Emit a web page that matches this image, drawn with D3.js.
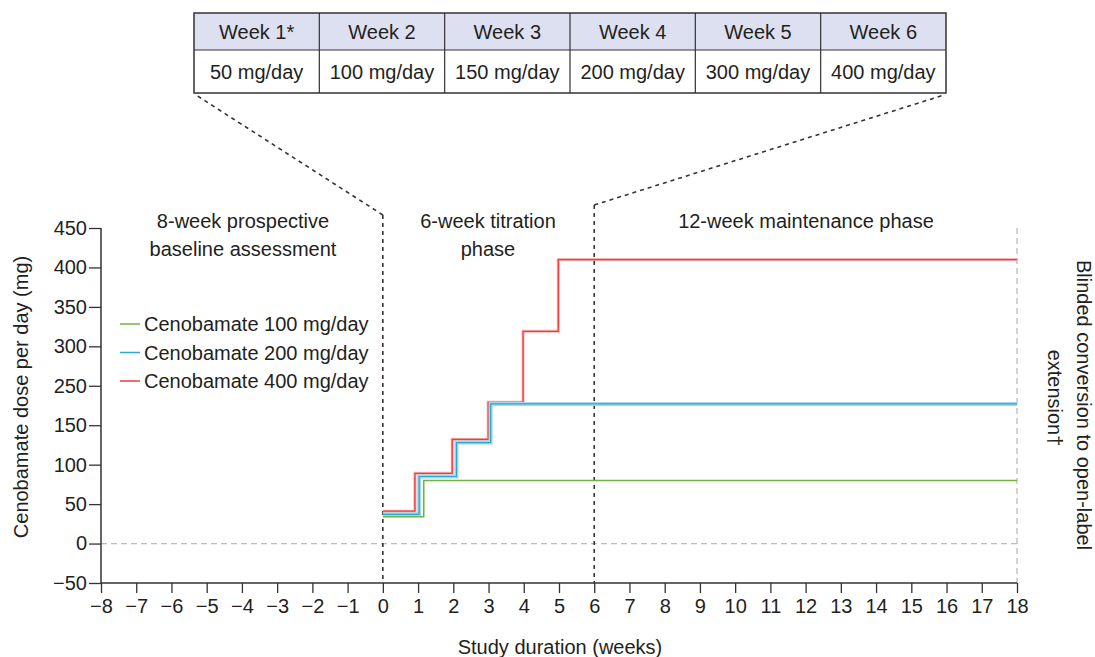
<!DOCTYPE html>
<html><head><meta charset="utf-8">
<script src="https://cdn.jsdelivr.net/npm/d3@7"></script>
<style>
body{margin:0;background:#fff;}
text{font-family:"Liberation Sans Narrow","Liberation Sans",sans-serif;fill:#231f20;}
</style></head>
<body>
<svg id="c" width="1095" height="657"></svg>
<script>
// ---- data ----
const weeks = ["Week 1*","Week 2","Week 3","Week 4","Week 5","Week 6"];
const doses = ["50 mg/day","100 mg/day","150 mg/day","200 mg/day","300 mg/day","400 mg/day"];
const xTicks = d3.range(-8,19);
const yTickValues = [-50,0,50,100,150,200,250,300,350,400];
const yTickLabels = ["\u221250","0","50","100","150","250","300","350","400","450"];
const greenX = [0,1.16,18];
const greenY = [34,80,80];
const blueX = [0,1.03,2.09,3.06,18];
const blueY = [37,85,128,177,177];
const redX = [0,0.91,1.97,2.99,3.98,4.98,18];
const redY = [41,89,132,179,269,360,360];
const seriesNames = ["Cenobamate 100 mg/day","Cenobamate 200 mg/day","Cenobamate 400 mg/day"];
const seriesColors = ["#6cb33f","#2aa7d4","#ee3b3b"];

const svg = d3.select("#c");
const x = d3.scaleLinear().domain([-8,18]).range([101,1017]);
const y = d3.scaleLinear().domain([-50,400]).range([583,228]);
const FS = 20;

// ---- table ----
const tX = d3.scaleLinear().domain([0,6]).range([194,946]);
const tTop = 13, tMid = 50, tBot = 93;
const tbl = svg.append("g");
tbl.append("rect").attr("x",tX(0)).attr("y",tTop).attr("width",tX(6)-tX(0)).attr("height",tMid-tTop).attr("fill","#dde0f0");
tbl.append("rect").attr("x",tX(0)).attr("y",tTop).attr("width",tX(6)-tX(0)).attr("height",tBot-tTop).attr("fill","none").attr("stroke","#333").attr("stroke-width",1.5);
tbl.append("line").attr("x1",tX(0)).attr("x2",tX(6)).attr("y1",tMid).attr("y2",tMid).attr("stroke","#333").attr("stroke-width",1.2);
d3.range(1,6).forEach(i=>tbl.append("line").attr("x1",tX(i)).attr("x2",tX(i)).attr("y1",tTop).attr("y2",tBot).attr("stroke","#333").attr("stroke-width",1.2));
weeks.forEach((w,i)=>tbl.append("text").attr("x",(tX(i)+tX(i+1))/2).attr("y",39).attr("text-anchor","middle").attr("font-size",FS).text(w));
doses.forEach((w,i)=>tbl.append("text").attr("x",(tX(i)+tX(i+1))/2).attr("y",79).attr("text-anchor","middle").attr("font-size",FS).text(w));

// ---- guide lines ----
svg.append("line").attr("x1",x(-8)).attr("x2",x(18)).attr("y1",y(0)).attr("y2",y(0)).attr("stroke","#bbb").attr("stroke-width",1.3).attr("stroke-dasharray","6,4");
svg.append("line").attr("x1",x(18)).attr("x2",x(18)).attr("y1",y(400)).attr("y2",y(-50)).attr("stroke","#bbb").attr("stroke-width",1.3).attr("stroke-dasharray","6,4");
const dk = "#333";
svg.append("line").attr("x1",x(0)).attr("x2",x(0)).attr("y1",215).attr("y2",y(-50)).attr("stroke",dk).attr("stroke-width",1.6).attr("stroke-dasharray","4,4");
svg.append("line").attr("x1",x(6)).attr("x2",x(6)).attr("y1",205).attr("y2",y(-50)).attr("stroke",dk).attr("stroke-width",1.6).attr("stroke-dasharray","4,4");
svg.append("line").attr("x1",x(0)).attr("y1",215).attr("x2",tX(0)+2).attr("y2",tBot+2).attr("stroke",dk).attr("stroke-width",1.6).attr("stroke-dasharray","4,4");
svg.append("line").attr("x1",x(6)).attr("y1",205).attr("x2",tX(6)-2).attr("y2",tBot+2).attr("stroke",dk).attr("stroke-width",1.6).attr("stroke-dasharray","4,4");

// ---- axes ----
const xAxis = svg.append("g").attr("transform",`translate(0,${y(-50)})`)
  .call(d3.axisBottom(x).tickValues(xTicks).tickSize(10).tickPadding(6).tickFormat(d=>d<0?"\u2212"+(-d):d));
const yAxis = svg.append("g").attr("transform",`translate(${x(-8)},0)`)
  .call(d3.axisLeft(y).tickValues(yTickValues).tickSize(12).tickPadding(2).tickFormat((d,i)=>yTickLabels[i]));
[xAxis,yAxis].forEach(a=>{
  a.select(".domain").attr("stroke",dk).attr("stroke-width",1.5);
  a.selectAll(".tick line").attr("stroke",dk).attr("stroke-width",1.3);
  a.selectAll(".tick text").attr("font-size",FS).attr("font-family",null).attr("fill","#231f20");
});
xAxis.select(".domain").attr("d",`M${x(-8)},0H${x(18)}`);
yAxis.select(".domain").attr("d",`M0,${y(400)}V${y(-50)}`);

// ---- series ----
function steps(xs,ys){
  const pts=[[xs[0],ys[0]]];
  for(let i=1;i<xs.length;i++){pts.push([xs[i],ys[i-1]]);pts.push([xs[i],ys[i]]);}
  return pts;
}
const line = d3.line().x(d=>x(d[0])).y(d=>y(d[1]));
const G = steps(greenX,greenY), B = steps(blueX,blueY), R = steps(redX,redY);
svg.append("path").attr("d",line(R)).attr("fill","none").attr("stroke","#f8b4b4").attr("stroke-width",3).attr("stroke-linejoin","miter");
svg.append("path").attr("d",line(R)).attr("fill","none").attr("stroke",seriesColors[2]).attr("stroke-width",1.3);
svg.append("path").attr("d",line(B)).attr("fill","none").attr("stroke","#a8d6e7").attr("stroke-width",4);
svg.append("path").attr("d",line(B)).attr("fill","none").attr("stroke",seriesColors[1]).attr("stroke-width",1.2);
svg.append("path").attr("d",line(G)).attr("fill","none").attr("stroke",seriesColors[0]).attr("stroke-width",1.6);

// ---- legend ----
seriesNames.forEach((n,i)=>{
  const ly = 324 + i*28.5;
  svg.append("line").attr("x1",120).attr("x2",140).attr("y1",ly).attr("y2",ly).attr("stroke",seriesColors[i]).attr("stroke-width",1.5);
  svg.append("text").attr("x",144).attr("y",ly+7).attr("font-size",FS).text(n);
});

// ---- phase labels ----
const lab = (t,cx,cy)=>svg.append("text").attr("x",cx).attr("y",cy).attr("text-anchor","middle").attr("font-size",FS).text(t);
lab("8-week prospective",243,228);
lab("baseline assessment",243,256);
lab("6-week titration",488,228);
lab("phase",488,256);
lab("12-week maintenance phase",806,228);

// ---- axis titles ----
svg.append("text").attr("transform","translate(28,397) rotate(-90)").attr("text-anchor","middle").attr("font-size",FS).text("Cenobamate dose per day (mg)");
svg.append("text").attr("x",560).attr("y",654).attr("text-anchor","middle").attr("font-size",FS).text("Study duration (weeks)");
svg.append("text").attr("transform","translate(1077,405) rotate(90)").attr("text-anchor","middle").attr("font-size",FS).text("Blinded conversion to open-label");
svg.append("text").attr("transform","translate(1048,398) rotate(90)").attr("text-anchor","middle").attr("font-size",FS).text("extension\u2020");
</script>
</body></html>
